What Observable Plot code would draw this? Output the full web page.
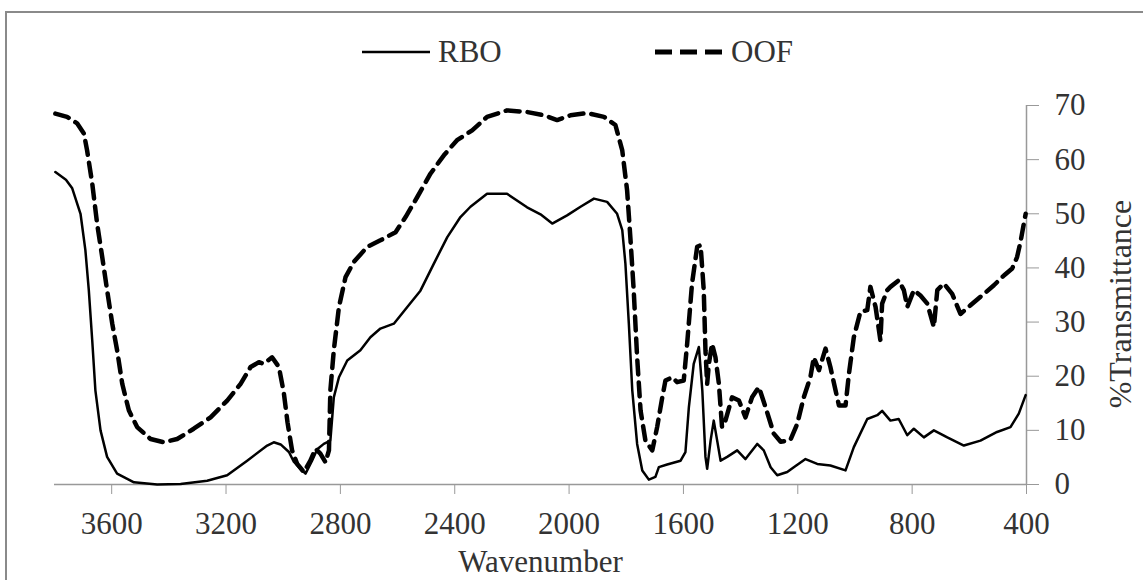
<!DOCTYPE html>
<html>
<head>
<meta charset="utf-8">
<script src="https://cdn.jsdelivr.net/npm/d3@7"></script>
<script src="https://cdn.jsdelivr.net/npm/@observablehq/plot@0.6"></script>
<style>
  html, body { margin: 0; padding: 0; background: #fff; }
  body { width: 1143px; height: 580px; position: relative; font-family: "Liberation Serif", "Times New Roman", serif; color: #333; }
  #frame { position: absolute; left: 5px; top: 11px; width: 1138px; height: 569px; border-top: 2px solid #8a8a8a; border-left: 2px solid #8a8a8a; box-sizing: border-box; pointer-events: none; }
  #legend { position: absolute; left: 0; top: 0; width: 1143px; height: 80px; }
  .item { position: absolute; top: 34px; height: 36px; display: flex; align-items: center; font-size: 31px; }
  .item svg { display: block; margin-right: 8px; }
  #chart { position: absolute; left: 0; top: 80px; }
</style>
</head>
<body>
<div id="legend"></div>
<div id="chart"></div>
<div id="frame"></div>
<script>
// Series names
const seriesNames = ["RBO", "OOF"];

// X tick labels (wavenumber) and Y tick labels (%T)
const xTicks = [3600, 3200, 2800, 2400, 2000, 1600, 1200, 800, 400];
const yTicks = [0, 10, 20, 30, 40, 50, 60, 70];

// RBO (solid)
const rboWn = [3797,3760,3738,3709,3692,3680,3668,3657,3639,3616,3581,3522,3441,3359,3266,3196,3126,3056,3033,3009,2980,2963,2940,2922,2899,2881,2858,2835,2823,2805,2776,2730,2695,2660,2613,2566,2520,2473,2426,2380,2345,2287,2217,2147,2100,2059,2007,1960,1913,1867,1832,1814,1803,1791,1779,1762,1744,1721,1698,1686,1657,1610,1593,1581,1564,1546,1534,1523,1517,1505,1494,1482,1470,1447,1412,1383,1342,1319,1295,1272,1237,1214,1173,1132,1086,1033,1004,957,922,905,876,847,817,794,759,724,677,619,561,503,456,427,403];
const rboT = [57.7,56.3,54.7,50.0,43.3,35.9,26.6,17.4,10.0,5.1,2.0,0.4,0.0,0.1,0.7,1.7,4.4,7.2,7.8,7.4,6.0,4.2,2.9,2.0,4.4,6.5,7.5,8.1,16.1,19.8,22.9,24.8,27.2,28.8,29.7,32.8,35.8,40.8,45.7,49.4,51.3,53.7,53.7,51.2,49.9,48.2,49.7,51.3,52.8,52.2,50.0,47.0,40.8,29.7,17.4,7.5,2.6,0.9,1.4,3.2,3.7,4.4,6.0,14.3,22.3,25.4,17.4,5.1,2.9,8.1,11.8,8.1,4.4,5.1,6.3,4.7,7.5,6.3,3.2,1.7,2.3,3.2,4.7,3.8,3.5,2.6,6.9,12.1,12.8,13.6,11.8,12.1,9.1,10.3,8.7,10.0,8.7,7.2,8.1,9.7,10.6,13.1,16.5];

// OOF (dashed)
const oofWn = [3797,3756,3721,3697,3686,3668,3651,3633,3616,3598,3581,3563,3540,3511,3464,3418,3371,3313,3254,3196,3149,3114,3085,3068,3039,3015,2998,2985,2969,2951,2928,2905,2887,2870,2852,2840,2835,2823,2805,2782,2753,2706,2660,2607,2572,2531,2485,2438,2392,2339,2287,2217,2147,2088,2042,1995,1937,1878,1838,1814,1797,1785,1774,1762,1750,1733,1709,1692,1674,1663,1639,1622,1599,1587,1570,1552,1540,1529,1523,1517,1511,1500,1488,1476,1465,1453,1430,1406,1383,1360,1336,1313,1284,1260,1226,1202,1179,1156,1144,1126,1103,1086,1068,1056,1033,1021,1004,981,957,946,928,911,905,887,876,847,829,817,794,771,747,724,712,689,660,631,596,549,514,479,450,433,421,403];
const oofT = [68.5,67.9,66.7,64.8,61.7,55.6,48.2,42.0,35.9,29.7,24.8,18.6,13.7,10.6,8.4,7.8,8.4,10.3,12.4,15.5,18.6,21.7,22.6,22.3,23.5,21.7,17.0,11.5,6.3,3.8,2.3,4.4,6.6,5.7,4.1,6.3,17.4,24.8,32.8,38.3,41.1,43.9,45.1,46.6,49.4,53.1,57.4,60.8,63.6,65.4,67.9,69.1,68.8,68.2,67.3,68.2,68.6,67.9,66.4,61.7,54.3,45.1,35.9,23.5,13.7,8.1,6.3,10.6,16.1,19.2,19.8,18.9,19.2,26.0,37.1,43.9,44.2,35.9,24.8,18.6,22.3,26.0,23.5,18.6,10.6,11.8,16.1,15.5,12.4,16.1,18.0,14.3,9.4,7.9,8.2,11.2,16.1,19.8,23.5,21.1,25.1,21.7,17.4,14.6,14.6,20.5,27.2,31.9,32.2,36.5,32.8,26.6,33.4,35.9,36.5,37.7,35.9,32.8,35.9,34.9,33.4,29.1,35.9,37.1,35.2,31.5,33.1,35.2,36.8,38.6,39.9,42.0,44.8,50.0];

const axisLabelX = "Wavenumber";
const axisLabelY = "%Transmittance";

const rbo = rboWn.map((w, i) => ({wn: w, t: rboT[i]}));
const oof = oofWn.map((w, i) => ({wn: w, t: oofT[i]}));

const dash = "14,8";

// Legend
const legend = document.getElementById("legend");
const legendSpec = [
  {name: seriesNames[0], left: 362, width: 2.5, dash: null},
  {name: seriesNames[1], left: 655, width: 5, dash: "17,8"}
];
for (const s of legendSpec) {
  const item = document.createElement("div");
  item.className = "item";
  item.style.left = s.left + "px";
  item.innerHTML = `<svg width="68" height="10"><line x1="0" y1="5" x2="68" y2="5" stroke="#000" stroke-width="${s.width}" ${s.dash ? `stroke-dasharray="${s.dash}"` : ""}/></svg><span>${s.name}</span>`;
  legend.appendChild(item);
}

const chart = Plot.plot({
  width: 1143,
  height: 500,
  marginLeft: 54,
  marginRight: 117,
  marginTop: 25,
  marginBottom: 96,
  style: {fontFamily: "'Liberation Serif', 'Times New Roman', serif", fontSize: "31px", color: "#333", background: "transparent", overflow: "visible"},
  x: {domain: [3800, 400]},
  y: {domain: [0, 70]},
  marks: [
    Plot.axisX({ticks: xTicks, tickFormat: d => String(d), tickSize: 10, tickPadding: 17, stroke: "#999", fill: "#333", label: null}),
    Plot.axisY({anchor: "right", ticks: yTicks, tickFormat: d => String(d), tickSize: 12, tickPadding: 16, stroke: "#999", fill: "#333", label: null}),
    Plot.ruleY([0], {stroke: "#999", strokeWidth: 1.5}),
    Plot.ruleX([400], {stroke: "#999", strokeWidth: 1.5}),
    Plot.line(rbo, {x: "wn", y: "t", stroke: "#000", strokeWidth: 2.5, curve: "linear"}),
    Plot.line(oof, {x: "wn", y: "t", stroke: "#000", strokeWidth: 4.5, strokeDasharray: dash, curve: "linear"}),
    Plot.text([axisLabelX], {frameAnchor: "bottom", lineAnchor: "middle", textAnchor: "middle", dy: 78, text: d => d, fill: "#333", fontSize: 31}),
    Plot.text([axisLabelY], {frameAnchor: "right", lineAnchor: "middle", textAnchor: "middle", dx: 94, dy: 9, rotate: -90, text: d => d, fill: "#333", fontSize: 32})
  ]
});
document.getElementById("chart").appendChild(chart);
</script>
</body>
</html>
